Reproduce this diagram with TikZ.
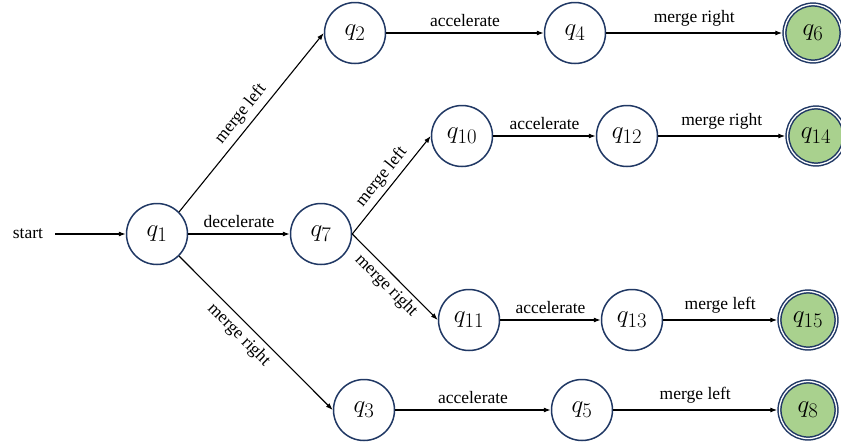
\documentclass[tikz,border=0pt]{standalone}
\usepackage{fontspec}
\setmainfont{Liberation Serif}
\usetikzlibrary{arrows.meta}
\definecolor{navy}{HTML}{203864}
\definecolor{accgreen}{HTML}{A9D18E}
\begin{document}
\begin{tikzpicture}[x=1pt,y=-1pt,
  stnode/.style={circle,draw=navy,line width=1.5pt,fill=white,minimum size=61pt,inner sep=0pt,font=\fontsize{24.88}{28}\selectfont},
  accnode/.style={stnode,fill=accgreen,double=white,double distance=1.3pt,line width=1.5pt,minimum size=57pt,outer sep=2.2pt},
  trans/.style={-{Latex[length=7pt,width=5pt]},line width=1.1pt,black},
  lbl/.style={font=\fontsize{17.5}{20}\selectfont,inner sep=6pt}
]
\useasboundingbox (0,0) rectangle (841,445);
\node[lbl,inner sep=4pt] (start) at (28,234) {start};
\node[stnode] (q1) at (157,234) {$q_1$};
\node[stnode] (q2) at (355,33) {$q_2$};
\node[stnode] (q4) at (575,33) {$q_4$};
\node[accnode] (q6) at (813,33) {$q_6$};
\node[stnode] (q7) at (321,234) {$q_7$};
\node[stnode] (q10) at (462,136) {$q_{10}$};
\node[stnode] (q12) at (627,136) {$q_{12}$};
\node[accnode] (q14) at (816,136) {$q_{14}$};
\node[stnode] (q11) at (469,320) {$q_{11}$};
\node[stnode] (q13) at (632,320) {$q_{13}$};
\node[accnode] (q15) at (808,320) {$q_{15}$};
\node[stnode] (q3) at (364,410) {$q_3$};
\node[stnode] (q5) at (582,410) {$q_5$};
\node[accnode] (q8) at (808,410) {$q_8$};

\draw[trans,shorten <=8pt] (start) -- (q1);
\draw[trans] (q1.north east) -- node[lbl,sloped,above,inner sep=5pt]{merge left} (q2.west);
\draw[trans] (q1) -- node[lbl,above]{decelerate} (q7);
\draw[trans] (q1.south east) -- node[lbl,sloped,below,pos=0.45,inner sep=5pt]{merge right} (q3.west);
\draw[trans] (q2) -- node[lbl,above]{accelerate} (q4);
\draw[trans] (q4) -- node[lbl,above]{merge right} (q6);
\draw[trans] (q7.east) -- node[lbl,sloped,above,inner sep=4pt]{merge left} (q10.west);
\draw[trans] (q7.east) -- node[lbl,sloped,below,inner sep=4pt]{merge right} (q11.west);
\draw[trans] (q10) -- node[lbl,above]{accelerate} (q12);
\draw[trans] (q12) -- node[lbl,above]{merge right} (q14);
\draw[trans] (q11) -- node[lbl,above]{accelerate} (q13);
\draw[trans] (q13) -- node[lbl,above]{merge left} (q15);
\draw[trans] (q3) -- node[lbl,above]{accelerate} (q5);
\draw[trans] (q5) -- node[lbl,above]{merge left} (q8);
\end{tikzpicture}
\end{document}
